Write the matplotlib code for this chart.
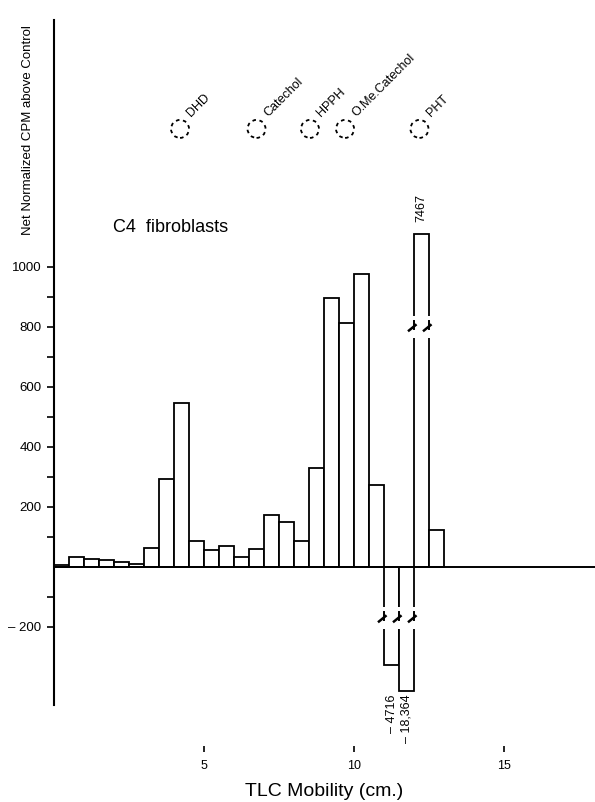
import matplotlib
matplotlib.use("Agg")
import matplotlib.pyplot as plt
from matplotlib.patches import Ellipse, Rectangle

plt.rcParams['font.family'] = ['Liberation Sans', 'DejaVu Sans']

# bins of 0.5 cm along the TLC plate
bin_start = [0.0, 0.5, 1.0, 1.5, 2.0, 2.5, 3.0, 3.5, 4.0, 4.5, 5.0, 5.5, 6.0,
             6.5, 7.0, 7.5, 8.0, 8.5, 9.0, 9.5, 10.0, 10.5, 11.0, 11.5, 12.0, 12.5]
cpm = [5, 33, 26, 23, 15, 10, 64, 293, 546, 87, 58, 70, 33,
       59, 174, 150, 87, 329, 898, 813, 978, 274, -4716, -18364, 7467, 124]
# bars off scale: drawn with a break
broken_idx = [22, 23, 24]
broken_shown = [-327, -413, 1110]
broken_label = ['\u2013 4716', '\u2013 18,364', '7467']

# standards run on the same plate
std_names = ['DHD', 'Catechol', 'HPPH', 'O.Me.Catechol', 'PHT']
std_pos = [4.2, 6.75, 8.53, 9.7, 12.18]

fig = plt.figure(figsize=(5.95, 8.02), dpi=100)
ax = fig.add_axes([54/595, 1-752/802, 541/595, 732/802])
ax.set_xlim(0, 18.03)
ax.set_ylim(-617, 1823)

heights = list(cpm)
for i, h in zip(broken_idx, broken_shown):
    heights[i] = h
ax.bar(bin_start, heights, width=0.5, align='edge', facecolor='white',
       edgecolor='black', linewidth=1.3, zorder=2)
ax.axhline(0, color='black', linewidth=1.4, zorder=3)

# breaks in the off-scale bars
def brk(x0, x1, yb):
    ax.add_patch(Rectangle((x0 - 0.1, yb - 36), x1 - x0 + 0.2, 72,
                           facecolor='white', edgecolor='none', zorder=4))
    x = x0
    while x <= x1 + 1e-6:
        ax.plot([x, x], [yb + 20, yb - 8], color='black', lw=1.4, zorder=5)
        ax.plot([x - 0.17, x + 0.05], [yb - 12, yb + 6], color='black', lw=1.8, zorder=5)
        x += 0.5

brk(11.0, 12.0, -170)
brk(12.0, 12.5, 800)

for i, h, lab in zip(broken_idx, broken_shown, broken_label):
    xc = bin_start[i] + 0.25
    if h > 0:
        ax.text(xc, h + 40, lab, rotation=90, ha='center', va='bottom', fontsize=9)
    else:
        ax.text(xc, -425, lab, rotation=90, ha='center', va='top', fontsize=9)

for name, x in zip(std_names, std_pos):
    ax.add_patch(Ellipse((x, 1460), 0.6, 60, fill=False, edgecolor='black',
                         linestyle=(0, (2, 2)), linewidth=1.3))
    ax.text(x + 0.38, 1500, name, rotation=45, rotation_mode='anchor',
            ha='left', va='baseline', fontsize=9)

ax.text(1.95, 1130, 'C4  fibroblasts', fontsize=13, va='center')

for s in ['top', 'right', 'bottom']:
    ax.spines[s].set_visible(False)
ax.spines['left'].set_bounds(-460, 1823)
ax.spines['left'].set_linewidth(1.5)

ax.set_yticks([-200, -100, 100, 200, 300, 400, 500, 600, 700, 800, 900, 1000])
ax.set_yticklabels(['\u2013 200', '', '', '200', '', '400', '', '600', '', '800', '', '1000'])
ax.tick_params(axis='y', direction='out', length=5, width=1.2, labelsize=9.5, pad=4)
ax.set_xticks([5, 10, 15])
ax.tick_params(axis='x', direction='in', length=4, width=1.2, labelsize=9, pad=6)

ax.set_xlabel('TLC Mobility (cm.)', fontsize=14, labelpad=8)
fig.text(28/595, 1-130/802, 'Net Normalized CPM above Control', rotation=90,
         ha='center', va='center', fontsize=9.5)

fig.savefig('out.png', dpi=100)
